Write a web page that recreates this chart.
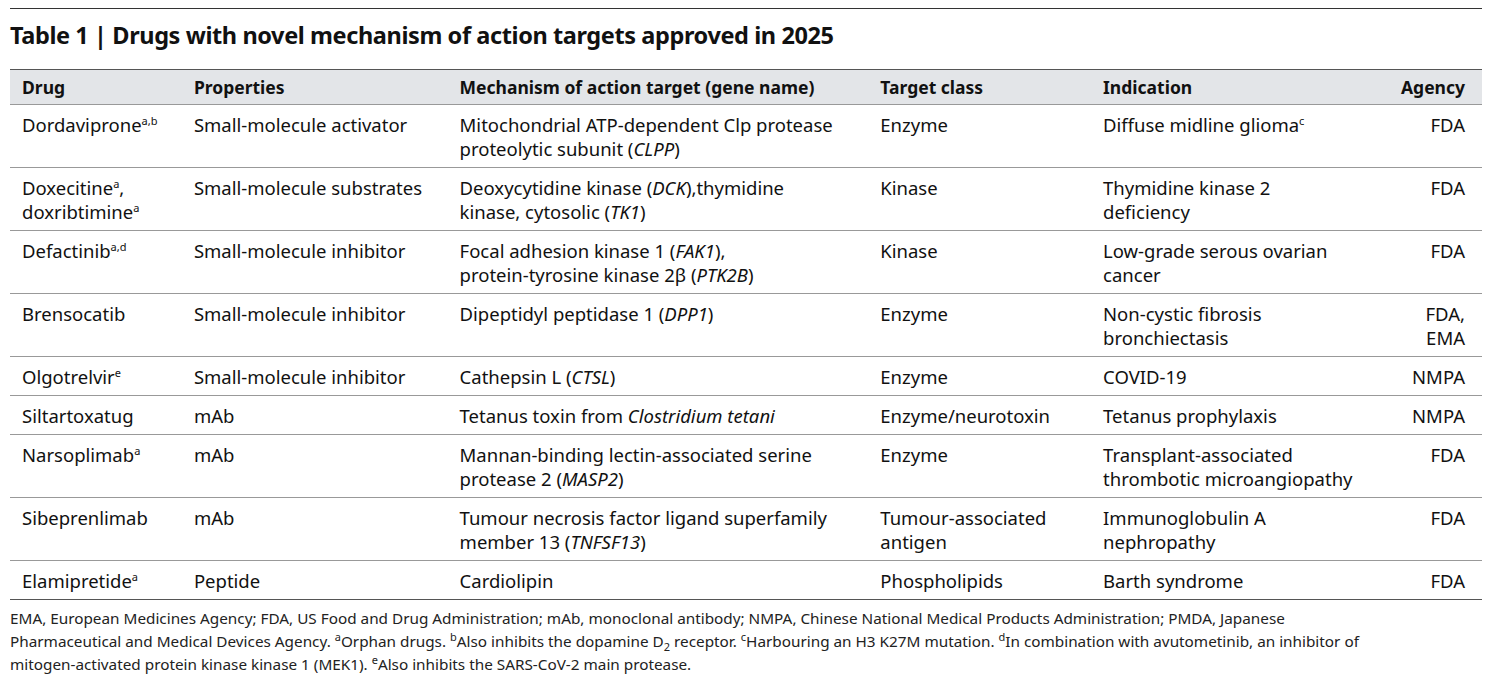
<!DOCTYPE html>
<html><head><meta charset="utf-8">
<script src="https://cdn.jsdelivr.net/npm/chart.js@4"></script>
<style>
body{margin:0;background:#fff;font-family:"Noto Sans",sans-serif;color:#111;width:1494px;height:689px;overflow:hidden}
#wrap{position:absolute;left:10px;top:8px;width:1472px;border-top:1px solid #333}
h1{font-size:23.5px;font-weight:700;margin:10px 0 0 0;letter-spacing:-0.4px;height:50px}
table{border-collapse:collapse;width:100%;font-size:18.5px;line-height:24px}
th{background:#e3e5e8;text-align:left;font-weight:700;font-size:17.5px;padding:5px 12px 5px 12px;border-top:1px solid #555}
td{vertical-align:top;padding:8px 12px 6px 12px;border-top:1px solid #999}
.r{text-align:right;padding-right:17px !important}
tbody tr:last-child td{border-bottom:1px solid #555}
sup{font-size:11px;line-height:0}
#notes{font-size:15.3px;line-height:23px;margin-top:7px;color:#222;width:1400px}
</style></head><body>
<div id="wrap">
<h1>Table 1 | Drugs with novel mechanism of action targets approved in 2025</h1>
<table><thead><tr id="head"></tr></thead><tbody id="body"></tbody></table>
<div id="notes">EMA, European Medicines Agency; FDA, US Food and Drug Administration; mAb, monoclonal antibody; NMPA, Chinese National Medical Products Administration; PMDA, Japanese<br>Pharmaceutical and Medical Devices Agency. <sup>a</sup>Orphan drugs. <sup>b</sup>Also inhibits the dopamine D<sub style="font-size:11px;line-height:0">2</sub> receptor. <sup>c</sup>Harbouring an H3 K27M mutation. <sup>d</sup>In combination with avutometinib, an inhibitor of<br>mitogen-activated protein kinase kinase 1 (MEK1). <sup>e</sup>Also inhibits the SARS-CoV-2 main protease.</div>
</div>
<script>
const columns = ['Drug', 'Properties', 'Mechanism of action target (gene name)', 'Target class', 'Indication', 'Agency'];
const drugs = ['Dordaviprone<sup>a,b</sup>', 'Doxecitine<sup>a</sup>,<br>doxribtimine<sup>a</sup>', 'Defactinib<sup>a,d</sup>', 'Brensocatib', 'Olgotrelvir<sup>e</sup>', 'Siltartoxatug', 'Narsoplimab<sup>a</sup>', 'Sibeprenlimab', 'Elamipretide<sup>a</sup>'];
const properties = ['Small-molecule activator', 'Small-molecule substrates', 'Small-molecule inhibitor', 'Small-molecule inhibitor', 'Small-molecule inhibitor', 'mAb', 'mAb', 'mAb', 'Peptide'];
const targets = ['Mitochondrial ATP-dependent Clp protease<br>proteolytic subunit (<i>CLPP</i>)', 'Deoxycytidine kinase (<i>DCK</i>),thymidine<br>kinase, cytosolic (<i>TK1</i>)', 'Focal adhesion kinase 1 (<i>FAK1</i>),<br>protein-tyrosine kinase 2β (<i>PTK2B</i>)', 'Dipeptidyl peptidase 1 (<i>DPP1</i>)', 'Cathepsin L (<i>CTSL</i>)', 'Tetanus toxin from <i>Clostridium tetani</i>', 'Mannan-binding lectin-associated serine<br>protease 2 (<i>MASP2</i>)', 'Tumour necrosis factor ligand superfamily<br>member 13 (<i>TNFSF13</i>)', 'Cardiolipin'];
const targetClass = ['Enzyme', 'Kinase', 'Kinase', 'Enzyme', 'Enzyme', 'Enzyme/neurotoxin', 'Enzyme', 'Tumour-associated<br>antigen', 'Phospholipids'];
const indications = ['Diffuse midline glioma<sup>c</sup>', 'Thymidine kinase 2<br>deficiency', 'Low-grade serous ovarian<br>cancer', 'Non-cystic fibrosis<br>bronchiectasis', 'COVID-19', 'Tetanus prophylaxis', 'Transplant-associated<br>thrombotic microangiopathy', 'Immunoglobulin A<br>nephropathy', 'Barth syndrome'];
const agencies = ['FDA', 'FDA', 'FDA', 'FDA,<br>EMA', 'NMPA', 'NMPA', 'FDA', 'FDA', 'FDA'];
const widths = [172, 267, 423, 223, 286, 101];

const head = document.getElementById('head');
columns.forEach((c, i) => {
    head.innerHTML += `<th class="${i === 5 ? 'r' : ''}" style="width:${widths[i] - 24}px">${c}</th>`;
});
const body = document.getElementById('body');
drugs.forEach((d, i) => {
    body.innerHTML += `<tr><td>${d}</td><td>${properties[i]}</td><td>${targets[i]}</td><td>${targetClass[i]}</td><td>${indications[i]}</td><td class="r">${agencies[i]}</td></tr>`;
});
</script>
</body></html>
